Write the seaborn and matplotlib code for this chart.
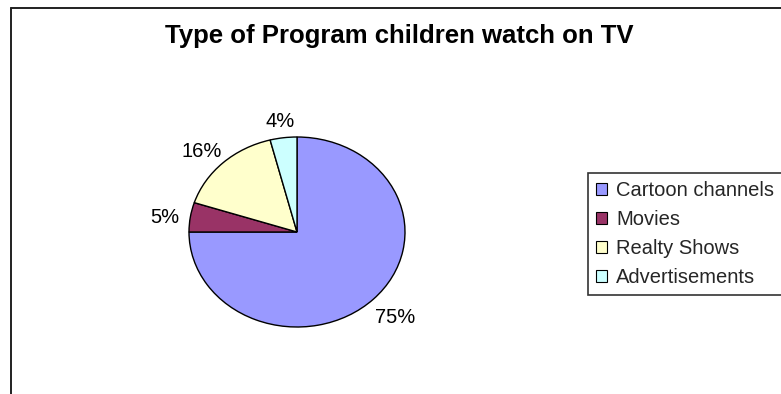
import numpy as np
import matplotlib
matplotlib.use("Agg")
import matplotlib.pyplot as plt
from matplotlib.lines import Line2D
from matplotlib.patches import Patch
import seaborn as sns

# Survey data: what children watch on TV (percent of responses)
categories = ["Cartoon channels", "Movies", "Realty Shows", "Advertisements"]
shares = [75, 5, 16, 4]
slice_colors = ["#9999FF", "#993366", "#FFFFCC", "#CCFFFF"]
title_text = "Type of Program children watch on TV"

sns.set_theme(style="white")
plt.rcParams["font.family"] = ["Liberation Sans", "DejaVu Sans"]

W, H = 781, 394
fig = plt.figure(figsize=(W / 100, H / 100), dpi=100)
fig.patch.set_facecolor("white")

def fx(px):
    return px / W

def fy(py):
    return 1 - py / H

# chart-area outline (left and top edges)
fig.add_artist(Line2D([fx(11), fx(11)], [fy(8), 0], color="#202020", lw=1.4))
fig.add_artist(Line2D([fx(11), 1.01], [fy(8), fy(8)], color="#202020", lw=1.4))

# plot area holding the (slightly elliptical) pie
cx, cy, rx, ry = 297, 232, 108, 95
ax = fig.add_axes([fx(cx - rx), fy(cy + ry), 2 * rx / W, 2 * ry / H])
palette = sns.color_palette(slice_colors)
wedges, _, pct_texts = ax.pie(
    shares,
    colors=palette,
    startangle=90,
    counterclock=False,
    autopct="%1.0f%%",
    wedgeprops=dict(edgecolor="black", linewidth=1.0),
    textprops=dict(fontsize=14.5, color="black"),
)
ax.set_aspect("auto")
ax.set_xlim(-1, 1)
ax.set_ylim(-1, 1)
ax.axis("off")

# place percentage labels just outside the rim, along each slice's mid-angle
fig.canvas.draw()
renderer = fig.canvas.get_renderer()
gap = 11
drop = 4  # px, visual centring of digits inside the text box
for w, t in zip(wedges, pct_texts):
    mid = np.deg2rad((w.theta1 + w.theta2) / 2)
    c, s = np.cos(mid), np.sin(mid)
    rim = ax.transData.transform((c, s))
    bb = t.get_window_extent(renderer)
    px = rim[0] + c * (gap + bb.width / 2)
    py = rim[1] + s * (gap + bb.height / 2) - drop
    t.set_position(ax.transData.inverted().transform((px, py)))
    t.set_ha("center")
    t.set_va("center")

fig.text(fx(399), fy(43), title_text, ha="center", va="baseline",
         fontsize=18.5, fontweight="bold", color="black")

handles = [Patch(facecolor=col, edgecolor="black", linewidth=0.8) for col in palette]
leg = fig.legend(
    handles, categories,
    loc="upper left", bbox_to_anchor=(fx(588), fy(173)),
    bbox_transform=fig.transFigure, borderaxespad=0,
    fontsize=14.5, frameon=True, fancybox=False, shadow=False,
    handlelength=0.55, handleheight=0.55, handletextpad=0.45,
    labelspacing=0.5, borderpad=0.4,
)
leg.get_frame().set_edgecolor("black")
leg.get_frame().set_linewidth(1.2)
leg.get_frame().set_facecolor("white")

fig.savefig("out.png", dpi=100, facecolor="white")
